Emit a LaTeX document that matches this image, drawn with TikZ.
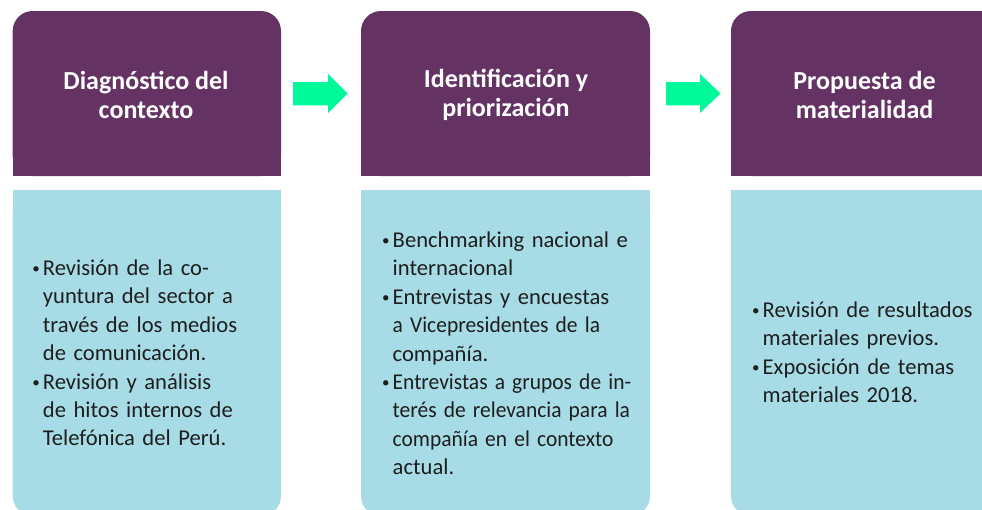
\documentclass[tikz,border=0pt]{standalone}
\usepackage{graphicx}
\usepackage{fontspec}
\setmainfont{Carlito}
\definecolor{hdpurple}{HTML}{643364}
\definecolor{bodyblue}{HTML}{A7DCE7}
\definecolor{arrowgreen}{HTML}{00FA9A}
\definecolor{bodytext}{HTML}{1E1E1E}
\newcommand{\bodyfnt}{\fontsize{22.6}{28.4}\selectfont\fontdimen2\font=3.6pt\fontdimen3\font=0pt\relax}
\tikzset{
  x=1pt, y=-1pt,
  headbg/.style={fill=hdpurple, rounded corners=20pt},
  bodybg/.style={fill=bodyblue, rounded corners=20pt},
  flowarrow/.style={fill=arrowgreen},
  headtext/.style={text=white, font=\fontsize{26}{29}\selectfont\bfseries, align=center, inner sep=0pt},
  bodytext/.style={text=bodytext, font=\bodyfnt, align=left, inner sep=0pt, text width=400pt, anchor=base west},
}
\newcommand{\bul}{\makebox[10.5pt][l]{\raisebox{1.8pt}{\fontsize{15}{15}\selectfont•}}}
\newcommand{\ind}{\hspace*{10.5pt}}
\newcommand{\narrow}[1]{\scalebox{0.95}[1]{#1}}
\begin{document}
\begin{tikzpicture}
\useasboundingbox (0,0) rectangle (982,509);
\clip (0,0) rectangle (982,509);
% headers
\fill[headbg] (12.7,11) rectangle (281,176);
\fill[hdpurple] (12.7,60) rectangle (281,176);
\fill[headbg] (361,11) rectangle (650,176);
\fill[hdpurple] (361,60) rectangle (650,176);
\fill[headbg] (731,11) rectangle (1010,176);
\fill[hdpurple] (731,60) rectangle (1010,176);
% body boxes
\fill[bodybg] (12.7,190) rectangle (281,516);
\fill[bodyblue] (12.7,190) rectangle (281,300);
\fill[bodybg] (361,190) rectangle (650,516);
\fill[bodyblue] (361,190) rectangle (650,300);
\fill[bodybg] (731,190) rectangle (1010,516);
\fill[bodyblue] (731,190) rectangle (1010,300);
% arrows
\fill[flowarrow] (293,82) -- (328,82) -- (328,74) -- (347.5,93.5) -- (328,113) -- (328,105.3) -- (293,105.3) -- cycle;
\fill[flowarrow] (666,82) -- (700,82) -- (700,74) -- (720.5,93.5) -- (700,113) -- (700,105.3) -- (666,105.3) -- cycle;
% header texts
\node[headtext] (h1) at (146,95) {Diagnóstico del\\contexto};
\node[headtext] (h2) at (506,95) {Identificación y\\priorización};
\node[headtext] (h3) at (864.5,95) {Propuesta de\\materialidad};
% body texts
\node[bodytext] (b1) at (32.2,275.5) {\bul Revisión de la co-\\\ind yuntura del sector a\\\ind través de los medios\\\ind de comunicación.\\\bul Revisión y análisis\\\ind de hitos internos de\\\ind Telefónica del Perú.};
\node[bodytext] (b2) at (382,247.5) {\bul Benchmarking nacional e\\\ind internacional\\\bul Entrevistas y encuestas\\\ind \narrow{a Vicepresidentes de la}\\\ind compañía.\\\bul \narrow{Entrevistas a grupos de in-}\\\ind \narrow{terés de relevancia para la}\\\ind \narrow{compañía en el contexto}\\\ind actual.};
\node[bodytext] (b3) at (752,317.5) {\bul Revisión de resultados\\\ind materiales previos.\\\bul Exposición de temas\\\ind materiales 2018.};
\end{tikzpicture}
\end{document}
